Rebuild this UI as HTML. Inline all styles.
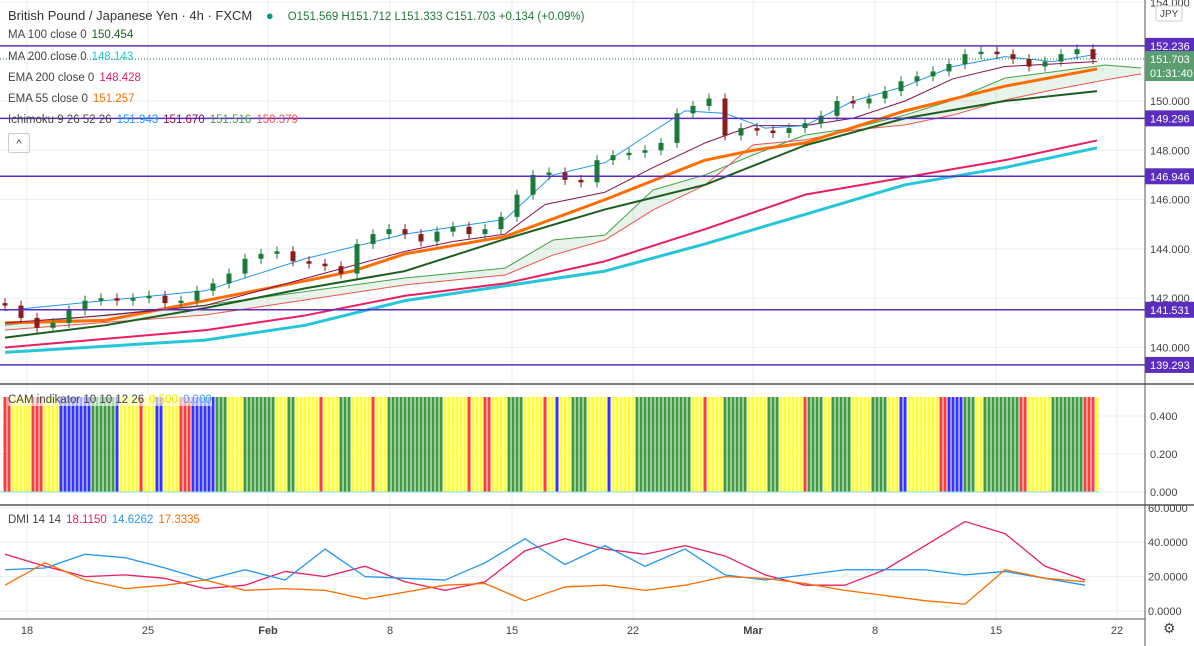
<!DOCTYPE html>
<html><head><meta charset="utf-8"><style>
body{margin:0;background:#fff;font-family:"Liberation Sans",sans-serif;}
#wrap{position:relative;width:1194px;height:646px;overflow:hidden;}
.lg{position:absolute;left:8px;font-size:11.5px;color:#444;white-space:nowrap;}
.lg span{margin-left:5px}
</style></head><body>
<div id="wrap">
<svg id="svg" width="1194" height="646"></svg>
<div class="lg" style="top:8px;font-size:13px;color:#333">British Pound / Japanese Yen · 4h · FXCM <span style="color:#089981;margin-left:10px">●</span><span style="margin-left:14px;color:#1b7a3a;font-size:11.5px">O151.569 H151.712 L151.333 C151.703 +0.134 (+0.09%)</span></div>
<div class="lg" style="top:29px">MA 100 close 0<span style="color:#1b5e20">150.454</span></div>
<div class="lg" style="top:51px">MA 200 close 0<span style="color:#26c6da">148.143</span></div>
<div class="lg" style="top:72px">EMA 200 close 0<span style="color:#e91e63">148.428</span></div>
<div class="lg" style="top:93px">EMA 55 close 0<span style="color:#ff6d00">151.257</span></div>
<div class="lg" style="top:114px">Ichimoku 9 26 52 26<span style="color:#2196f3">151.943</span><span style="color:#880e4f">151.670</span><span style="color:#43a047">151.516</span><span style="color:#ef5350">150.379</span></div>
<div style="position:absolute;left:8px;top:133px;width:20px;height:18px;border:1px solid #ccc;border-radius:2px;font-size:11px;text-align:center;line-height:20px;color:#333">^</div>
<div class="lg" style="top:394px;background:rgba(255,255,255,0.6)">CAM indikator 10 10 12 26<span style="color:#e6e600">0.500</span><span style="color:#42a5f5">0.000</span></div>
<div class="lg" style="top:514px">DMI 14 14<span style="color:#e91e63">18.1150</span><span style="color:#2196f3">14.6262</span><span style="color:#ff6d00">17.3335</span></div>
</div>
<script>
// ---- data ----
const closes=[141.7,141.2,140.8,141.0,141.5,141.9,142.0,141.9,142.0,142.1,141.8,141.9,142.3,142.6,143.0,143.6,143.8,143.9,143.5,143.4,143.3,143.0,144.2,144.6,144.8,144.6,144.3,144.7,144.9,144.6,144.8,145.3,146.2,147.0,147.1,146.8,146.7,147.6,147.8,147.9,148.0,148.3,149.5,149.8,150.1,148.6,148.9,148.8,148.7,148.9,149.1,149.4,150.0,149.9,150.1,150.4,150.8,151.0,151.2,151.5,151.9,152.0,151.9,151.7,151.4,151.6,151.9,152.1,151.7];
const ma200Bars=[0,50,75,100,125,150,175,200,225,250,273];
const ma200=[139.8,140.3,140.9,141.9,142.5,143.1,144.2,145.4,146.6,147.3,148.1];
const ema200=[140.0,140.7,141.3,142.1,142.6,143.5,144.8,146.2,146.9,147.6,148.4];
const ma100=[140.4,140.9,141.6,142.4,143.1,144.4,145.6,146.6,148.2,149.3,150.0,150.4];
const ma100Bars=[0,25,50,75,100,125,150,175,200,225,250,273];
const ema55Bars=[0,25,50,75,87,100,125,150,175,187,200,225,250,273];
const ema55=[141.0,141.1,141.9,142.7,143.1,143.8,144.5,146.0,147.6,148.0,148.3,149.6,150.6,151.3];
const tenkanBars=[0,25,50,75,100,125,137,150,170,180,190,200,212,225,237,250,262,273];
const tenkan=[141.5,141.9,142.3,143.6,144.6,145.2,147.0,147.5,149.6,149.5,148.9,149.0,150.0,150.6,151.4,151.8,151.6,151.9];
const kijunBars=[0,25,50,75,100,112,125,135,150,162,175,187,200,212,225,237,250,262,273];
const kijun=[141.0,141.3,141.7,142.8,143.9,144.3,144.6,145.8,146.3,147.3,148.3,149.0,149.0,149.3,150.0,150.9,151.4,151.5,151.6];
const cloudBars=[0,50,100,125,137,150,162,175,187,200,212,225,237,250,262,275,284];
const spanA=[140.91,141.72,142.82,143.22,144.36,144.56,146.39,147.0,147.81,148.62,148.9,149.43,150.04,150.93,151.18,151.46,151.34];
const spanB=[140.71,141.32,142.54,142.94,143.75,144.36,145.58,146.59,148.22,148.42,148.82,149.03,149.43,150.04,150.45,150.85,151.1];
const levels=[152.236,149.296,146.946,141.531,139.293];
const priceTicks=[154,150,148,146,144,142,140];
const camRuns="R2Y5R3Y4B8G6B1Y5R1Y3B2Y4R3B6G3Y4G8Y3G2Y6R1Y4G3Y5R1Y3G14Y6R1Y3R2Y4G4Y5R1Y2B1Y3G4Y5B1Y6G14Y3R1Y4G6Y5G3Y6R1G4Y2G5Y5G4Y3B2Y8R2B4G3Y2G4G5R2Y2Y4G3G5R3Y1R3G4G6R1Y3B3Y6R2Y3B3G2B2G2Y5";
const dmiBars=[0,10,20,30,40,50,60,70,80,90,100,110,120,130,140,150,160,170,180,190,200,210,220,230,240,250,260,270];
const dmiPlus=[33,26,20,21,19,13,15,23,20,26,17,12,17,35,42,36,33,38,32,21,15,15,24,38,52,45,26,18];
const dmiMinus=[24,25,33,31,25,18,24,18,36,20,19,18,28,42,27,38,26,36,21,18,21,24,24,24,21,23,19,15];
const adx=[15,28,18,13,15,18,12,13,12,7,11,15,16,6,14,15,12,15,20,19,16,12,9,6,4,24,19,17];
const timeLabels=["18","25","Feb","8","15","22","Mar","8","15","22"];
const timeBars=[5.5,35.75,65.75,96.25,126.75,157,187,217.5,247.75,278];
// ---- scales ----
const bx=i=>5+4*i, py=p=>101-(p-150)*24.65, cy=v=>492-v*190, dy=v=>611-v*1.72;
const S=document.getElementById('svg'),NS='http://www.w3.org/2000/svg';
function el(t,a,p){const e=document.createElementNS(NS,t);for(const k in a)e.setAttribute(k,a[k]);(p||S).appendChild(e);return e;}
// grid
timeBars.forEach((b,i)=>{const g=el('line',{x1:bx(b),x2:bx(b),y1:0,y2:619,stroke:'#eceef2'});

});
priceTicks.forEach(p=>{const g=el('line',{x1:0,x2:1145,y1:py(p),y2:py(p),stroke:'#eceef2'});

});
[0,0.2,0.4].forEach(v=>el('line',{x1:0,x2:1145,y1:cy(v),y2:cy(v),stroke:'#eceef2'}));
[0,20,40,60].forEach(v=>el('line',{x1:0,x2:1145,y1:dy(v),y2:dy(v),stroke:'#eceef2'}));
function poly(bars,vals,sc,col,w,name){const pts=bars.map((b,i)=>bx(b)+','+sc(vals[i])).join(' ');
const e=el('polyline',{points:pts,fill:'none',stroke:col,'stroke-width':w,'stroke-linejoin':'round'});

return e;}
// cloud fill
{const pts=cloudBars.map((b,i)=>bx(b)+','+py(spanA[i])).concat(cloudBars.slice().reverse().map((b,j)=>bx(b)+','+py(spanB[cloudBars.length-1-j])));
const c=el('polygon',{points:pts.join(' '),fill:'rgba(67,160,71,0.12)'});

}
poly(cloudBars,spanA,py,'#43a047',1,'span-a-line');
poly(cloudBars,spanB,py,'#ef5350',1,'span-b-line');
poly(ma200Bars,ma200,py,'#26c6da',3,'ma200-line');
poly(ma200Bars,ema200,py,'#e91e63',2,'ema200-line');
poly(ma100Bars,ma100,py,'#1b5e20',2,'ma100-line');
poly(ema55Bars,ema55,py,'#ff6d00',3,'ema55-line');
poly(kijunBars,kijun,py,'#880e4f',1,'kijun-line');
poly(tenkanBars,tenkan,py,'#2196f3',1,'tenkan-line');
// candles
closes.forEach((c,k)=>{const o=k?closes[k-1]:c+0.1;const x=bx(4*k);const up=c>=o;const col=up?'#1b7a3a':'#8b1a1a';
const hi=Math.max(o,c),lo=Math.min(o,c);
const w=el('line',{x1:x,x2:x,y1:py(hi)-5,y2:py(lo)+5,stroke:col});


const r=el('rect',{x:x-2.5,y:py(hi),width:5,height:Math.max(1,py(lo)-py(hi)),fill:col});

});
// current price line
el('line',{x1:0,x2:1145,y1:py(151.703),y2:py(151.703),stroke:'#1b7a3a','stroke-dasharray':'1 2'});
// levels
levels.forEach(l=>{const e=el('line',{x1:0,x2:1145,y1:py(l),y2:py(l),stroke:'#5b2dbf','stroke-width':1.5});


const r=el('rect',{x:1145,y:py(l)-8,width:49,height:16,fill:'#5b2dbf'});


const t=el('text',{x:1150,y:py(l)+4,fill:'#fff','font-size':11});t.textContent=l.toFixed(3);});
// cam bars
const camCol={R:'#ff3b3b',Y:'#ffff33',B:'#3333ff',G:'#3d9a3d'};
{let i=0;const re=/([RYBG])(\d+)/g;let m;while((m=re.exec(camRuns))){for(let n=0;n<+m[2];n++){if(i<274){const r=el('rect',{x:bx(i)-1.5,y:cy(0.5),width:3,height:cy(0)-cy(0.5),fill:camCol[m[1]]});

}i++;}}}
el('line',{x1:0,x2:1100,y1:cy(0),y2:cy(0),stroke:'#80deea'});
// dmi
poly(dmiBars,dmiPlus,dy,'#e91e63',1.3,'dmi-plus-line');
poly(dmiBars,dmiMinus,dy,'#2196f3',1.3,'dmi-minus-line');
poly(dmiBars,adx,dy,'#ff6d00',1.3,'adx-line');
// separators & axes
el('line',{x1:0,x2:1194,y1:384,y2:384,stroke:'#555','stroke-width':1.5});
el('line',{x1:0,x2:1194,y1:505,y2:505,stroke:'#555','stroke-width':1.5});
el('line',{x1:0,x2:1145,y1:619,y2:619,stroke:'#555','stroke-width':1});
el('line',{x1:1145,x2:1145,y1:0,y2:646,stroke:'#555','stroke-width':1});
function txt(x,y,s,name,a){const t=el('text',Object.assign({x:x,y:y,fill:'#444','font-size':11},a||{}));t.textContent=s;

return t;}
priceTicks.forEach(p=>{if(Math.abs(p-152)>0.5)txt(1150,py(p)+4,p.toFixed(3),'price-tick');});
[0,0.2,0.4].forEach(v=>txt(1150,cy(v)+4,v.toFixed(3),'cam-tick'));
[0,20,40,60].forEach(v=>txt(1148,dy(v)+4,v.toFixed(4),'dmi-tick'));
timeLabels.forEach((s,i)=>txt(bx(timeBars[i]),634,s,'time-label',{'text-anchor':'middle','font-weight':/[A-Z]/.test(s)?'bold':'normal'}));
// current price tag
{const r=el('rect',{x:1145,y:py(151.703)-8,width:49,height:30,fill:'#5a9e6f'});


txt(1150,py(151.703)+4,'151.703','current-price',{fill:'#fff'});txt(1150,py(151.703)+18,'01:31:40','countdown',{fill:'#fff'});}
{const r=el('rect',{x:1156,y:6,width:26,height:15,fill:'#fff',stroke:'#ccc',rx:2});


txt(1160,17,'JPY','currency',{'font-size':10});}
txt(1163,633,'⚙','settings-icon',{'font-size':14});
</script>
</body></html>
